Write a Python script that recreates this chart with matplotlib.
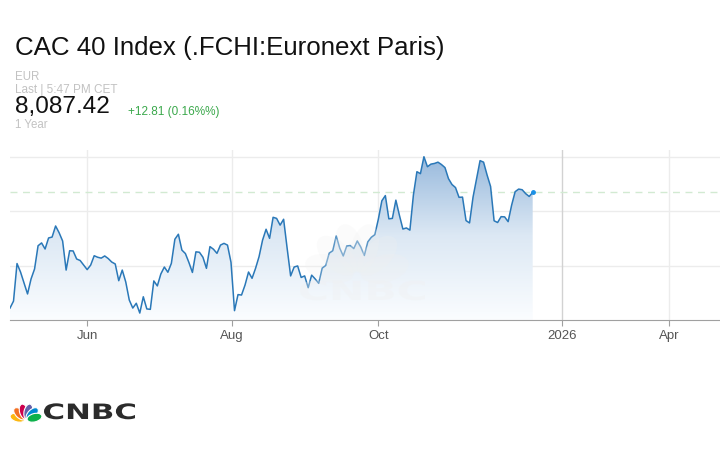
import numpy as np
import matplotlib.pyplot as plt
from matplotlib.patches import Ellipse, PathPatch
from matplotlib.textpath import TextPath
from matplotlib.font_manager import FontProperties
from matplotlib.transforms import Affine2D
from matplotlib.colors import LinearSegmentedColormap

plt.rcParams['font.family'] = ['Liberation Sans', 'DejaVu Sans']

# CAC 40 daily closes, one per session
closes = [
    7555, 7587, 7760, 7721, 7670, 7620, 7689, 7735, 7842, 7855,
    7827, 7878, 7882, 7933, 7902, 7864, 7730, 7819, 7818, 7781,
    7774, 7753, 7732, 7753, 7796, 7789, 7785, 7795, 7783, 7767,
    7758, 7681, 7730, 7675, 7592, 7555, 7577, 7532, 7607, 7551,
    7549, 7680, 7657, 7712, 7744, 7720, 7761, 7872, 7895, 7822,
    7806, 7765, 7719, 7814, 7812, 7789, 7738, 7838, 7826, 7807,
    7845, 7853, 7845, 7766, 7543, 7617, 7615, 7661, 7721, 7692,
    7738, 7792, 7868, 7918, 7876, 7973, 7968, 7937, 7964, 7831,
    7703, 7744, 7749, 7696, 7703, 7649, 7707, 7689, 7669, 7739,
    7751, 7808, 7819, 7887, 7831, 7795, 7841, 7843, 7829, 7864,
    7836, 7797, 7860, 7881, 7893, 7964, 8049, 8073, 7966, 7968,
    8052, 7983, 7919, 7924, 7914, 8076, 8183, 8174, 8252, 8206,
    8218, 8221, 8227, 8216, 8202, 8151, 8124, 8110, 8065, 8066,
    7958, 7947, 8066, 8149, 8234, 8227, 8168, 8115, 7957, 7949,
    7976, 7975, 7953, 8029, 8091, 8103, 8100, 8082, 8069, 8087.42,
]
tick_sessions = [22, 63.3, 105, 157.4, 188]
tick_labels = ['Jun', 'Aug', 'Oct', '2026', 'Apr']
grid_levels = [7750, 8000, 8250]
last_price = 8087.42
change_text = '+12.81 (0.16%%)'

W, H = 720, 450
fig = plt.figure(figsize=(7.2, 4.5), dpi=100)

# chart area
ax = fig.add_axes([10 / W, 1 - 320 / H, 710 / W, 170 / H])
x = np.arange(len(closes))
ymin, ymax = 7500, 8283

for g in grid_levels:
    ax.axhline(g, color='#ececec', lw=1, zorder=0)
for t, lab in zip(tick_sessions, tick_labels):
    ax.axvline(t, color='#d2d2d2' if lab == '2026' else '#ececec', lw=1, zorder=0)
ax.axhline(last_price, color='#d2ead2', lw=1, ls=(0, (5, 4)), zorder=0.5)

# gradient fill under the line
fade = LinearSegmentedColormap.from_list('fade', ['#fbfdff', '#dce8f4', '#93b6db'])
poly = ax.fill_between(x, closes, ymin, facecolor='none', edgecolor='none')
img = ax.imshow(np.linspace(0, 1, 256).reshape(-1, 1), extent=[0, x[-1], ymin, ymax],
                origin='lower', aspect='auto', cmap=fade, zorder=1)
img.set_clip_path(poly.get_paths()[0], transform=ax.transData)

ax.plot(x, closes, color='#2a78b8', lw=1.1, zorder=3)
ax.plot(x[-1], closes[-1], 'o', ms=2.5, color='#1a90e6', zorder=4)

ax.set_xlim(0, 202.4)
ax.set_ylim(ymin, ymax)
ax.set_yticks([])
ax.set_xticks(tick_sessions, tick_labels)
ax.tick_params(axis='x', length=4, color='#a0a0a0', labelcolor='#555555',
               labelsize=9.5, pad=3)
for s in ['top', 'left', 'right']:
    ax.spines[s].set_visible(False)
ax.spines['bottom'].set_color('#a0a0a0')

# header
def ftext(px, py, s, **kw):
    fig.text(px / W, 1 - py / H, s, va='baseline', ha='left', **kw)

ftext(15, 55, 'CAC 40 Index (.FCHI:Euronext Paris)', fontsize=18.6, color='#111111')
ftext(15, 80.5, 'EUR', fontsize=8.3, color='#c2c2c2')
ftext(15, 93, 'Last | 5:47 PM CET', fontsize=8.5, color='#c2c2c2')
ftext(15, 113.5, f'{last_price:,.2f}', fontsize=17.6, color='#111111')
ftext(128, 114.5, change_text, fontsize=8.5, color='#3aa84b')
ftext(15, 127.5, '1 Year', fontsize=8.3, color='#c2c2c2')

# overlay in pixel coordinates for the logos
ov = fig.add_axes([0, 0, 1, 1])
ov.set_xlim(0, W)
ov.set_ylim(H, 0)
ov.axis('off')
ov.patch.set_alpha(0)


def logo_text(s, x0, base, width, height, color, alpha=1.0):
    tp = TextPath((0, 0), s, size=10, prop=FontProperties(family='DejaVu Sans', weight='bold'))
    bb = tp.get_extents()
    tr = (Affine2D().translate(-bb.x0, 0)
          .scale(width / bb.width, -height / bb.height).translate(x0, base))
    ov.add_patch(PathPatch(tr.transform_path(tp), facecolor=color, edgecolor='none', alpha=alpha))


def peacock(cx, cy, r, colors, alpha=1.0, edge='white'):
    for a, c in zip(np.linspace(165, 15, 6), colors):
        t = np.deg2rad(a)
        ov.add_patch(Ellipse((cx + r * 0.55 * np.cos(t), cy - r * 0.55 * np.sin(t)),
                             r * 0.95, r * 0.52, angle=-a, facecolor=c,
                             edgecolor=edge, lw=0.8, alpha=alpha))


feather_colors = ['#fcb711', '#f37021', '#cc004c', '#6460aa', '#0089d0', '#0db14b']
peacock(26, 420, 16, feather_colors)
logo_text('CNBC', 44, 419, 91, 16, '#2b2b2b')

# faint watermark inside the chart
peacock(357, 276, 52, ['#f0f0f0'] * 6, alpha=0.25, edge='none')
logo_text('CNBC', 300, 300, 125, 20, '#f0f0f0', alpha=0.35)

fig.savefig('out.png', dpi=100)
